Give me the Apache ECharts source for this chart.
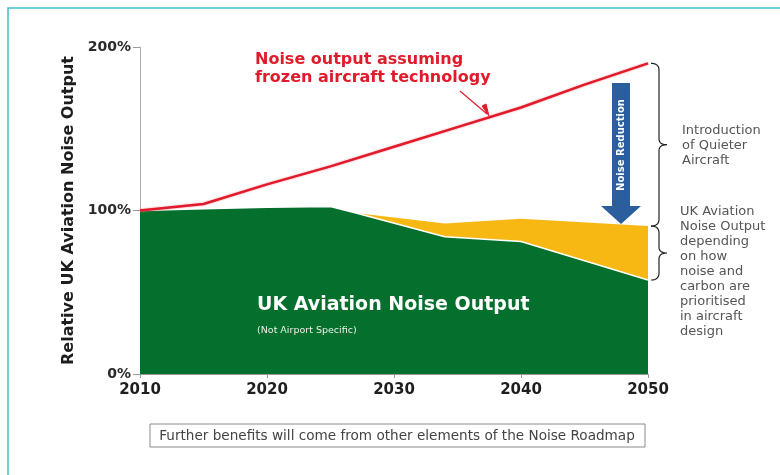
<!DOCTYPE html>
<html>
<head>
<meta charset="utf-8">
<script src="https://cdn.jsdelivr.net/npm/echarts@6/dist/echarts.min.js"></script>
<style>
  html, body { margin: 0; padding: 0; background: #fff; }
  #chart { width: 780px; height: 475px; }
</style>
</head>
<body>
<div id="chart"></div>
<script>
// noise with frozen technology (red line)
const frozenYears = [2010, 2015, 2020, 2025, 2030, 2035, 2040, 2045, 2050];
const frozenNoise = [100, 104, 116, 127, 139, 151, 163, 177, 190];
// UK aviation noise output, lower bound (green)
const ukYears = [2010, 2015, 2020, 2025, 2027, 2034, 2040, 2050];
const ukNoise = [100, 101, 102, 102.5, 98.5, 84, 81, 57.5];
// upper bound depending on noise/carbon priorities (yellow)
const upperYears = [2027, 2034, 2040, 2050];
const upperNoise = [98.5, 92, 95, 90.5];
const yTicks = [0, 100, 200];
const xTicks = [2010, 2020, 2030, 2040, 2050];

const pair = (xs, ys) => xs.map((x, i) => [x, ys[i]]);
const font = "'DejaVu Sans', sans-serif";

const chart = echarts.init(document.getElementById("chart"));
chart.setOption({
  animation: false,
  grid: { left: 140, right: 132, top: 47, bottom: 101 },
  xAxis: {
    type: "value",
    min: xTicks[0],
    max: xTicks[xTicks.length - 1],
    interval: 10,
    axisLine: { lineStyle: { color: "#9a9a9a" } },
    axisTick: { length: 4, lineStyle: { color: "#9a9a9a" } },
    splitLine: { show: false },
    axisLabel: {
      formatter: (v) => String(v),
      color: "#1e1e1e",
      fontWeight: "bold",
      fontSize: 15,
      fontFamily: font,
      margin: 9,
    },
  },
  yAxis: {
    type: "value",
    min: yTicks[0],
    max: yTicks[yTicks.length - 1],
    interval: 100,
    name: "Relative UK Aviation Noise Output",
    nameLocation: "middle",
    nameGap: 62,
    nameTextStyle: { color: "#1e1e1e", fontWeight: "bold", fontSize: 16, fontFamily: font },
    axisLine: { show: true, lineStyle: { color: "#b0b0b0" } },
    axisTick: { show: true, length: 7, lineStyle: { color: "#9a9a9a" } },
    splitLine: { show: false },
    axisLabel: {
      formatter: "{value}%",
      color: "#2a2a2a",
      fontWeight: "bold",
      fontSize: 14,
      fontFamily: font,
      margin: 9,
    },
  },
  series: [
    {
      name: "upper",
      type: "line",
      data: pair(upperYears, upperNoise),
      symbol: "none",
      lineStyle: { width: 0 },
      areaStyle: { color: "#f8b814", opacity: 1, origin: "start" },
    },
    {
      name: "uk",
      type: "line",
      data: pair(ukYears, ukNoise),
      symbol: "none",
      lineStyle: { color: "#ffffff", width: 1.5 },
      areaStyle: { color: "#05702d", opacity: 1, origin: "start" },
    },
    {
      name: "frozen",
      type: "line",
      data: pair(frozenYears, frozenNoise),
      symbol: "none",
      lineStyle: { color: "#e11b2b", width: 2.5, shadowColor: "rgba(240,120,130,0.8)", shadowBlur: 2 },
    },
  ],
});

// annotations placed from data positions
const px = (x, y) => chart.convertToPixel({ gridIndex: 0 }, [x, y]);
const last = frozenYears.length - 1;
const pRed = px(2050, frozenNoise[last]);
const pUp = px(2050, upperNoise[upperNoise.length - 1]);
const pLow = px(2050, ukNoise[ukNoise.length - 1]);

// curly brace as polyline points
function quad(p0, p1, p2, out) {
  for (let i = 0; i <= 8; i++) {
    const t = i / 8, u = 1 - t;
    out.push([u * u * p0[0] + 2 * u * t * p1[0] + t * t * p2[0], u * u * p0[1] + 2 * u * t * p1[1] + t * t * p2[1]]);
  }
}
function brace(x, y1, y2) {
  const ym = (y1 + y2) / 2;
  const a = x + 3, b = x + 11, t = x + 19;
  const pts = [];
  quad([a, y1], [b, y1], [b, y1 + 7], pts);
  quad([b, ym - 6], [b, ym], [t, ym], pts);
  quad([t, ym], [b, ym], [b, ym + 6], pts);
  quad([b, y2 - 7], [b, y2], [a, y2], pts);
  return pts;
}

const grey = "#555";
chart.setOption({
  graphic: [
    { type: "rect", shape: { x: 8, y: 8, width: 800, height: 500 }, style: { fill: "none", stroke: "#3fc0d2", lineWidth: 1.5 } },
    { type: "polyline", shape: { points: brace(pRed[0], pRed[1], pUp[1]) }, style: { fill: "none", stroke: "#222", lineWidth: 1.2 } },
    { type: "polyline", shape: { points: brace(pUp[0], pUp[1], pLow[1]) }, style: { fill: "none", stroke: "#222", lineWidth: 1.2 } },
    {
      type: "text", left: 682, top: 123,
      style: { text: "Introduction\nof Quieter\nAircraft", fill: grey, font: "13px " + font, lineHeight: 15 },
    },
    {
      type: "text", left: 680, top: 204,
      style: {
        text: "UK Aviation\nNoise Output\ndepending\non how\nnoise and\ncarbon are\nprioritised\nin aircraft\ndesign",
        fill: grey, font: "13px " + font, lineHeight: 15,
      },
    },
    // Noise reduction arrow
    { type: "rect", shape: { x: 612, y: 83, width: 18, height: 125 }, style: { fill: "#2a5e9c" } },
    { type: "polygon", shape: { points: [[601, 206], [641, 206], [621, 224]] }, style: { fill: "#2a5e9c" } },
    {
      type: "text", x: 621, y: 145, rotation: Math.PI / 2, z: 100,
      style: { text: "Noise Reduction", fill: "#fff", font: "bold 10px " + font, align: "center", verticalAlign: "middle" },
    },
    // red label with leader
    {
      type: "text", left: 255, top: 51,
      style: { text: "Noise output assuming\nfrozen aircraft technology", fill: "#e11b2b", font: "bold 16px " + font, lineHeight: 18 },
    },
    { type: "line", shape: { x1: 460, y1: 91, x2: 487, y2: 114 }, style: { stroke: "#e11b2b", lineWidth: 1.2 } },
    { type: "polygon", shape: { points: [[482, 106], [489, 116], [486, 104]] }, style: { fill: "#e11b2b", stroke: "#e11b2b", lineWidth: 1 } },
    // green area labels
    {
      type: "text", left: 257, top: 296, z: 100,
      style: { text: "UK Aviation Noise Output", fill: "#fff", font: "bold 19px " + font },
    },
    {
      type: "text", left: 257, top: 326, z: 100,
      style: { text: "(Not Airport Specific)", fill: "#e8f0e8", font: "9.5px " + font },
    },
    // footer box
    { type: "rect", shape: { x: 150, y: 424, width: 495, height: 23 }, style: { fill: "#fff", stroke: "#8a8a8a", lineWidth: 1 } },
    {
      type: "text", x: 397, y: 436,
      style: { text: "Further benefits will come from other elements of the Noise Roadmap", fill: "#444", font: "13.6px " + font, align: "center", verticalAlign: "middle" },
    },
  ],
});
</script>
</body>
</html>
